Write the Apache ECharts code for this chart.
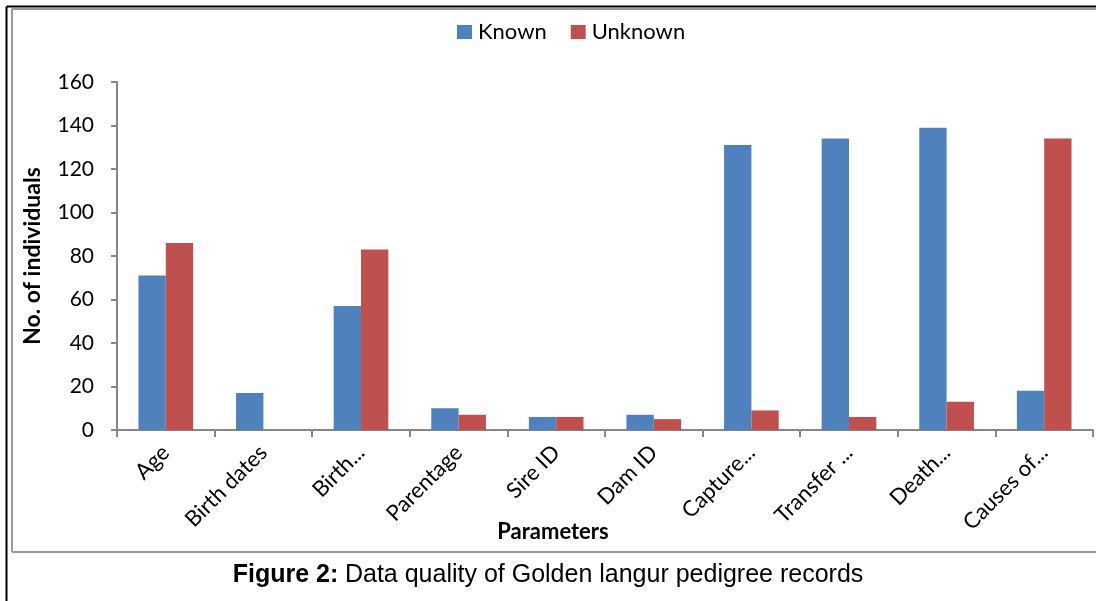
<!DOCTYPE html>
<html><head><meta charset="utf-8">
<script src="https://cdn.jsdelivr.net/npm/echarts@6/dist/echarts.min.js"></script>
<style>html,body{margin:0;padding:0;background:#fff}#c{width:1096px;height:601px}</style>
</head><body><div id="c"></div>
<script>
const categories = ['Age','Birth dates','Birth...','Parentage','Sire ID','Dam ID','Capture...','Transfer ...','Death...','Causes of...'];
const knownValues = [71,17,57,10,6,7,131,134,139,18];
const unknownValues = [86,0,83,7,6,5,9,6,13,134];
const yTicks = {min:0,max:160,interval:20};

const chart = echarts.init(document.getElementById('c'));
const F = 'Lato, "Open Sans", sans-serif';
chart.setOption({
  animation:false,
  backgroundColor:'#fff',
  legend:{
    top:16, left:560, itemWidth:15, itemHeight:14, itemGap:24,
    icon:'rect',
    textStyle:{fontFamily:F,fontSize:22,color:'#000',padding:[0,0,0,1]},
    data:['Known','Unknown']
  },
  grid:{left:117,right:3,top:82,bottom:171,containLabel:false},
  xAxis:{
    type:'category', data:categories,
    axisLine:{lineStyle:{color:'#868686',width:2}},
    axisTick:{show:true,length:7,lineStyle:{color:'#868686',width:2}},
    axisLabel:{rotate:45,margin:19,fontFamily:F,fontSize:22,color:'#000',interval:0}
  },
  yAxis:{
    type:'value', min:yTicks.min, max:yTicks.max, interval:yTicks.interval,
    name:'No. of individuals', nameLocation:'middle', nameGap:73,
    nameTextStyle:{fontFamily:F,fontSize:23,fontWeight:'bold',color:'#000'},
    axisLine:{show:true,lineStyle:{color:'#868686',width:2}},
    axisTick:{show:true,length:6,lineStyle:{color:'#868686',width:2}},
    axisLabel:{margin:23,fontFamily:F,fontSize:21,color:'#000'},
    splitLine:{show:false}
  },
  series:[
    {name:'Known',type:'bar',data:knownValues,barGap:'0%',barCategoryGap:'44%',
     itemStyle:{color:'#4F81BD'}},
    {name:'Unknown',type:'bar',data:unknownValues,barGap:'0%',barCategoryGap:'44%',
     itemStyle:{color:'#C0504D'}}
  ],
  graphic:[
    {type:'line',shape:{x1:6.5,y1:6.5,x2:1096,y2:6.5},style:{stroke:'#000',lineWidth:2}},
    {type:'line',shape:{x1:6.5,y1:6.5,x2:6.5,y2:601},style:{stroke:'#000',lineWidth:2}},
    {type:'line',shape:{x1:11.5,y1:9,x2:1096,y2:9},style:{stroke:'#9a9a9a',lineWidth:2}},
    {type:'line',shape:{x1:12,y1:9,x2:12,y2:552},style:{stroke:'#9a9a9a',lineWidth:2}},
    {type:'line',shape:{x1:12,y1:552,x2:1096,y2:552},style:{stroke:'#9a9a9a',lineWidth:2}},
    {type:'text',x:553,y:532,style:{text:'Parameters',align:'center',verticalAlign:'middle',
      fontFamily:F,fontSize:22,fontWeight:'bold',fill:'#000'}},
    {type:'text',left:'center',top:563,style:{
      text:'{b|Figure 2:}  {r|Data quality of Golden langur pedigree records}',
      rich:{
        b:{fontFamily:'"Liberation Sans Narrow", "Arial Narrow", sans-serif',fontSize:25,fontWeight:'bold',fill:'#000'},
        r:{fontFamily:'"Liberation Sans Narrow", "Arial Narrow", sans-serif',fontSize:25,fill:'#000'}
      }}}
  ]
});
// center legend block to match reference placement (left edge of first icon ~452)
chart.setOption({legend:{left:452}});
</script></body></html>
